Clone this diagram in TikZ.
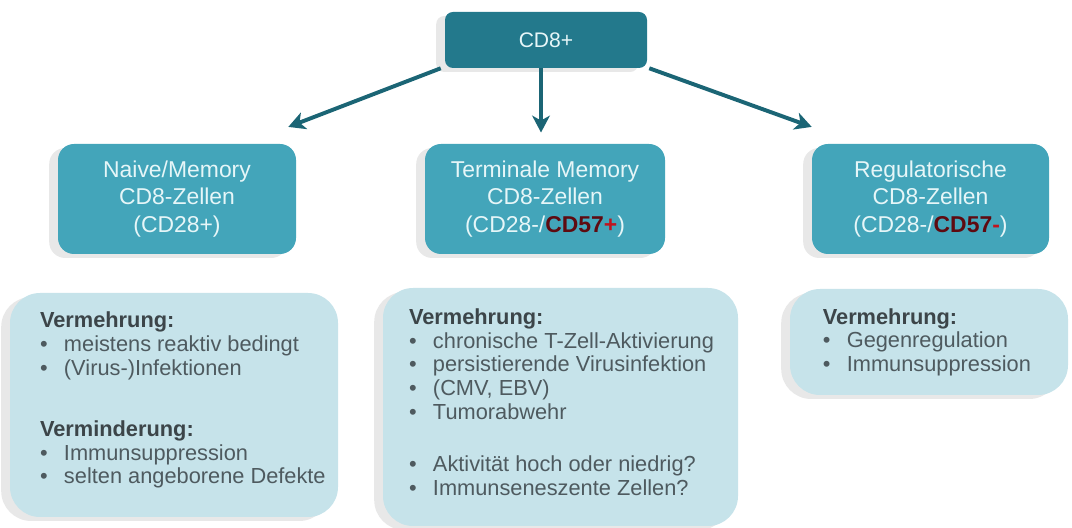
\documentclass[tikz,border=0pt]{standalone}
\usepackage{fontspec}
\setmainfont{Liberation Sans}
\usepackage{tikz,color}
\usetikzlibrary{shadows,arrows.meta}

\definecolor{topfill}{HTML}{23798C}
\definecolor{midfill}{HTML}{43A5BA}
\definecolor{lowfill}{HTML}{C6E3EA}
\definecolor{arrcol}{HTML}{1B6575}
\definecolor{lighttext}{HTML}{E6F6F8}
\definecolor{greytext}{HTML}{4E5A5F}
\definecolor{headtext}{HTML}{3C4549}
\definecolor{cdred}{HTML}{5E0A10}
\definecolor{cdsign}{HTML}{C0141E}

\newcommand{\bul}[1]{\makebox[0.6cm][l]{\textbullet}#1}
\newcommand{\hd}[1]{{\bfseries\color{headtext}#1}}
\newcommand{\cdmark}[1]{\textbf{\color{cdred}CD57\color{cdsign}#1}}

\begin{document}
\begin{tikzpicture}[
  softshadow/.style={drop shadow={shadow xshift=-0.22cm, shadow yshift=-0.1cm, opacity=0.13, fill=black!70}},
  topbox/.style={rounded corners=0.2cm, fill=topfill, text=lighttext, minimum width=5.05cm, minimum height=1.4cm, font=\fontsize{15}{18}\selectfont, softshadow},
  cellbox/.style={rounded corners=0.4cm, fill=midfill, text=lighttext, align=center, minimum height=2.75cm, font=\fontsize{16.3}{19.4}\selectfont, softshadow},
  listbox/.style={rounded corners=0.75cm, fill=lowfill, softshadow},
  listtext/.style={anchor=west, text=greytext, align=left, inner sep=0pt, font=\fontsize{15.5}{16.8}\selectfont},
  arr/.style={-{Stealth[length=0.42cm, width=0.44cm, inset=0.12cm]}, line width=2.8pt, draw=arrcol}
]
\useasboundingbox (0,0) rectangle (26.8,13.2);

\node [topbox] (cd8) at (13.65,12.2) {CD8+};

\node [cellbox, minimum width=5.95cm] (naive) at (4.425,8.225)
  {Naive/Memory\\CD8-Zellen\\(CD28+)};
\node [cellbox, minimum width=6cm] (term) at (13.625,8.225)
  {Terminale Memory\\CD8-Zellen\\(CD28-/\cdmark{+})};
\node [cellbox, minimum width=5.925cm] (reg) at (23.2625,8.225)
  {Regulatorische\\CD8-Zellen\\(CD28-/\cdmark{-})};

\draw [arr] ([xshift=-0.1cm]cd8.south west) -- ([xshift=-0.2cm, yshift=0.42cm]naive.north east);
\draw [arr] ([xshift=-0.1cm]cd8.south -| term.north) -- ([xshift=-0.1cm, yshift=0.28cm]term.north);
\draw [arr] ([xshift=0.05cm]cd8.south east) -- ([yshift=0.42cm]reg.north west);

\node [listbox, minimum width=8.2cm, minimum height=5.6cm] (naivelist) at (4.35,3.075) {};
\node [listtext] (naivetext) at ([xshift=0.75cm, yshift=0.12cm]naivelist.west)
  {\hd{Vermehrung:}\\
   \bul{meistens reaktiv bedingt}\\
   \bul{(Virus-)Infektionen}\\[0.95cm]
   \hd{Verminderung:}\\
   \bul{Immunsuppression}\\
   \bul{selten angeborene Defekte}};

\node [listbox, minimum width=8.875cm, minimum height=5.95cm] (termlist) at (14.0125,3.025) {};
\node [listtext] (termtext) at ([xshift=0.65cm, yshift=0.12cm]termlist.west)
  {\hd{Vermehrung:}\\
   \bul{chronische T-Zell-Aktivierung}\\
   \bul{persistierende Virusinfektion}\\
   \bul{(CMV, EBV)}\\
   \bul{Tumorabwehr}\\[0.72cm]
   \bul{Aktivität hoch oder niedrig?}\\
   \bul{Immunseneszente Zellen?}};

\node [listbox, minimum width=6.95cm, minimum height=2.65cm] (reglist) at (23.225,4.65) {};
\node [listtext] (regtext) at ([xshift=0.82cm]reglist.west)
  {\hd{Vermehrung:}\\
   \bul{Gegenregulation}\\
   \bul{Immunsuppression}};
\end{tikzpicture}
\end{document}
